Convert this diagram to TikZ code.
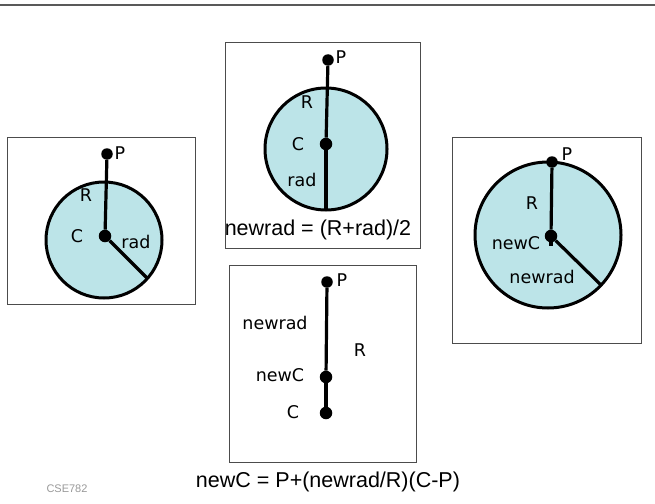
\documentclass[tikz,border=0pt]{standalone}
\usepackage{fontspec}
\setmainfont{DejaVu Sans}
\newfontfamily\formulafont{Liberation Sans}
\definecolor{discfill}{RGB}{188,228,232}
\begin{document}
\begin{tikzpicture}[x=1pt, y=-1pt,
    dot/.style={circle, fill=black, inner sep=0pt, minimum size=12.5pt},
    lbl/.style={font=\fontsize{17.5}{20}\selectfont, inner sep=0pt},
    formula/.style={font=\formulafont\fontsize{21.5}{24}\selectfont, inner sep=0pt},
    frame/.style={draw=black!70, line width=0.9pt},
    disc/.style={draw=black, fill=discfill, line width=3pt},
    seg/.style={line width=3.2pt}]
    \useasboundingbox (0,0) rectangle (655,503);
    \draw[black!65, line width=1.2pt] (0,5) -- (655,5);

    % left: starting circle
    \draw[frame] (7,137) rectangle (195,304);
    \draw[disc] (104,240) circle (58pt);
    \coordinate (lrim) at (147,278);
    \node[dot, minimum size=11.5pt] (lP) at (107,154) {};
    \node[dot] (lC) at (105,236) {};
    \draw[seg] (lP) -- (lC);
    \draw[seg] (lC) -- (lrim);
    \node[lbl] (lPl) at (120,153) {P};
    \node[lbl] (lRl) at (86,195) {R};
    \node[lbl] (lCl) at (77,236) {C};
    \node[lbl] (lradl) at (136,242) {rad};

    % top: the new radius
    \draw[frame] (225,42) rectangle (420,248);
    \draw[disc] (326,149) circle (61pt);
    \coordinate (trim) at (326,210);
    \node[dot, minimum size=11.5pt] (tP) at (328,60) {};
    \node[dot] (tC) at (326,144) {};
    \draw[seg] (tP) -- (tC);
    \draw[seg] (tC) -- (trim);
    \node[lbl] (tPl) at (341,57) {P};
    \node[lbl] (tRl) at (307,102) {R};
    \node[lbl] (tCl) at (298,144) {C};
    \node[lbl] (tradl) at (302,180) {rad};
    \node[formula] (tform) at (318,230) {newrad = (R+rad)/2};

    % bottom: the new centre
    \draw[frame] (229,265) rectangle (416,462);
    \node[dot, minimum size=11.5pt] (bP) at (327,282) {};
    \node[dot] (bnewC) at (326,377) {};
    \node[dot] (bC) at (326,413) {};
    \draw[seg] (bP) -- (bnewC);
    \draw[seg] (bnewC) -- (bC);
    \node[lbl] (bPl) at (342,280) {P};
    \node[lbl] (bnewradl) at (275,323) {newrad};
    \node[lbl] (bRl) at (360,350) {R};
    \node[lbl] (bnewCl) at (280,375) {newC};
    \node[lbl] (bCl) at (293,412) {C};
    \node[formula] (bform) at (328,482) {newC = P+(newrad/R)(C-P)};

    % right: the grown circle
    \draw[frame] (452,137) rectangle (641,343);
    \draw[disc] (548,235) circle (73pt);
    \coordinate (rrim) at (601,285);
    \coordinate (rtick) at (551,246);
    \node[dot, minimum size=11.5pt] (rP) at (552,162) {};
    \node[dot] (rC) at (551,236) {};
    \draw[seg] (rP) -- (rC);
    \draw[seg] (rC) -- (rrim);
    \draw[seg] (rC) -- (rtick);
    \node[lbl] (rPl) at (567,154) {P};
    \node[lbl] (rRl) at (532,203) {R};
    \node[lbl] (rnewCl) at (516,243) {newC};
    \node[lbl] (rnewradl) at (542,277) {newrad};

    \node[font=\formulafont\fontsize{11}{13}\selectfont, text=black!40, inner sep=0pt] (course) at (67,489) {CSE782};
\end{tikzpicture}
\end{document}
